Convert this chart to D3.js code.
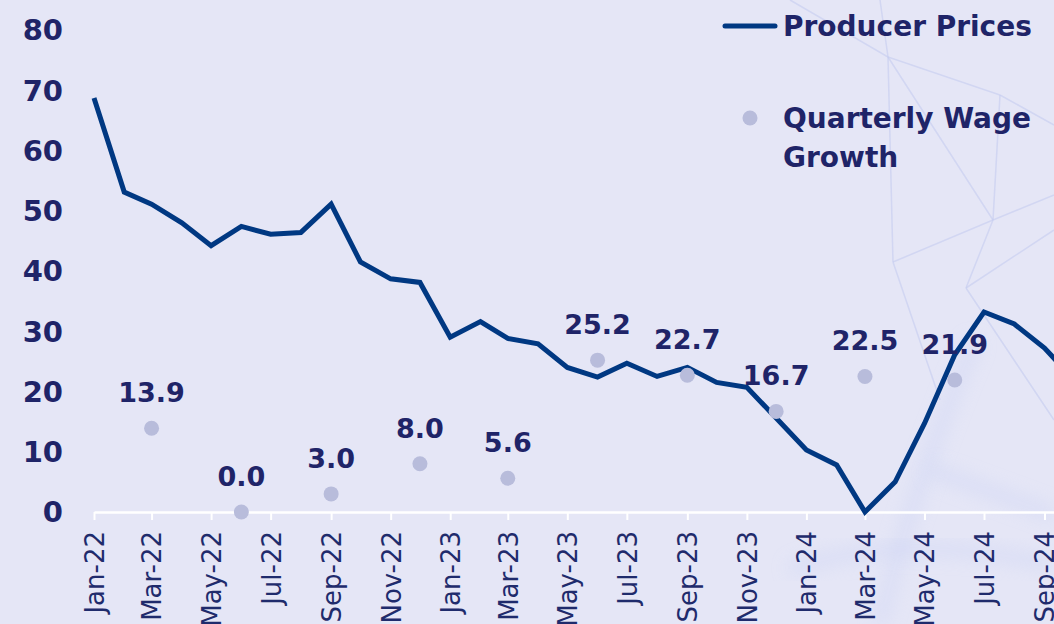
<!DOCTYPE html>
<html>
<head>
<meta charset="utf-8">
<script src="https://cdn.jsdelivr.net/npm/d3@7"></script>
<style>
  html, body { margin: 0; padding: 0; background: #e5e6f6; overflow: hidden; }
  svg { display: block; }
</style>
</head>
<body>
<script>
// monthly producer prices, Jan-22 .. Oct-24
var months = ['2022-01','2022-02','2022-03','2022-04','2022-05','2022-06','2022-07','2022-08','2022-09','2022-10','2022-11','2022-12',
              '2023-01','2023-02','2023-03','2023-04','2023-05','2023-06','2023-07','2023-08','2023-09','2023-10','2023-11','2023-12',
              '2024-01','2024-02','2024-03','2024-04','2024-05','2024-06','2024-07','2024-08','2024-09','2024-10'];
var producerPrices = [68.7, 53.1, 51.1, 48.0, 44.2, 47.4, 46.1, 46.4, 51.1, 41.5, 38.7, 38.1,
                      29.0, 31.6, 28.8, 27.9, 24.0, 22.4, 24.7, 22.5, 24.0, 21.5, 20.7, 15.6,
                      10.3, 7.8, 0.0, 5.0, 14.7, 26.1, 33.2, 31.2, 27.2, 22.0];

// quarterly wage growth
var quarters = ['2022-03','2022-06','2022-09','2022-12','2023-03','2023-06','2023-09','2023-12','2024-03','2024-06'];
var wageGrowth = [13.9, 0.0, 3.0, 8.0, 5.6, 25.2, 22.7, 16.7, 22.5, 21.9];

var yTicks = [0, 10, 20, 30, 40, 50, 60, 70, 80];
var legendLabels = ['Producer Prices', ['Quarterly Wage', 'Growth']];

var w = 1054, h = 624;
var parse = d3.timeParse('%Y-%m');
var lineColor = '#003882', dotColor = '#b8bcdb', textColor = '#1f2468';

var svg = d3.select('body').append('svg')
  .attr('width', w)
  .attr('height', h)
  .style('font-family', '"DejaVu Sans", sans-serif');

var x = d3.scaleTime()
  .domain([parse('2022-01'), parse('2024-10')])
  .range([94, 1073.8]);
var y = d3.scaleLinear()
  .domain([0, 80])
  .range([512, 30]);

// faint background decoration
var defs = svg.append('defs');
defs.append('filter').attr('id', 'blur')
  .attr('x', '-50%').attr('y', '-50%').attr('width', '200%').attr('height', '200%')
  .append('feGaussianBlur').attr('stdDeviation', 9);
defs.append('filter').attr('id', 'soft')
  .append('feGaussianBlur').attr('stdDeviation', 0.6);

var deco = svg.append('g').attr('fill', 'none');
deco.selectAll('path.soft')
  .data([
    'M880,624 Q915,480 975,340',
    'M930,470 Q1000,495 1054,515',
    'M790,570 Q900,530 1054,565'
  ])
  .enter().append('path')
  .attr('d', function (d) { return d; })
  .attr('stroke', '#cdd4f4')
  .attr('stroke-width', 12)
  .attr('opacity', 0.55)
  .attr('filter', 'url(#blur)');
deco.selectAll('line')
  .data([
    [790, 0, 888, 57], [880, 0, 888, 57], [888, 57, 1000, 95], [1000, 95, 1054, 125],
    [888, 57, 893, 262], [893, 262, 993, 220], [993, 220, 1054, 195], [1000, 95, 993, 220],
    [888, 57, 993, 220], [966, 288, 1054, 230], [966, 288, 1054, 420], [993, 220, 966, 288],
    [893, 262, 940, 400]
  ])
  .enter().append('line')
  .attr('x1', function (d) { return d[0]; })
  .attr('y1', function (d) { return d[1]; })
  .attr('x2', function (d) { return d[2]; })
  .attr('y2', function (d) { return d[3]; })
  .attr('stroke', '#c6cdf0')
  .attr('stroke-width', 1.6)
  .attr('opacity', 0.6)
  .attr('filter', 'url(#soft)');

// y labels (no axis line)
svg.append('g').selectAll('text')
  .data(yTicks)
  .enter().append('text')
  .attr('x', 63)
  .attr('y', function (d) { return y(d); })
  .attr('dy', '0.36em')
  .attr('text-anchor', 'end')
  .attr('fill', textColor)
  .style('font-weight', 'bold')
  .style('font-size', '29px')
  .text(function (d) { return d; });

// x axis
var xAxis = d3.axisBottom(x)
  .ticks(d3.timeMonth.every(2))
  .tickFormat(d3.timeFormat('%b-%y'))
  .tickSize(8)
  .tickSizeOuter(0);
var gx = svg.append('g')
  .attr('transform', 'translate(0,' + y(0) + ')')
  .call(xAxis);
gx.select('.domain').attr('stroke', '#ffffff').attr('stroke-width', 2.5);
gx.selectAll('.tick line').attr('stroke', '#ffffff').attr('stroke-width', 2);
gx.selectAll('.tick text')
  .attr('transform', 'rotate(-90)')
  .attr('x', -19)
  .attr('y', 0)
  .attr('dy', '0.36em')
  .attr('text-anchor', 'end')
  .attr('fill', '#1f2b6c')
  .style('font-family', '"DejaVu Sans", sans-serif')
  .style('font-size', '26px');

// producer prices line
var line = d3.line()
  .x(function (d, i) { return x(parse(months[i])); })
  .y(function (d) { return y(d); });
svg.append('path')
  .datum(producerPrices)
  .attr('d', line)
  .attr('fill', 'none')
  .attr('stroke', lineColor)
  .attr('stroke-width', 5)
  .attr('stroke-linejoin', 'miter');

// wage growth dots + labels
var dots = svg.append('g').selectAll('g')
  .data(wageGrowth)
  .enter().append('g');
dots.append('circle')
  .attr('cx', function (d, i) { return x(parse(quarters[i])); })
  .attr('cy', function (d) { return y(d); })
  .attr('r', 7.5)
  .attr('fill', dotColor);
dots.append('text')
  .attr('x', function (d, i) { return x(parse(quarters[i])); })
  .attr('y', function (d) { return y(d) - 26; })
  .attr('text-anchor', 'middle')
  .attr('fill', textColor)
  .style('font-weight', 'bold')
  .style('font-size', '27px')
  .text(function (d) { return d.toFixed(1); });

// legend
var legend = svg.append('g');
legend.append('line')
  .attr('x1', 725).attr('x2', 775)
  .attr('y1', 26).attr('y2', 26)
  .attr('stroke', lineColor)
  .attr('stroke-width', 5)
  .attr('stroke-linecap', 'round');
legend.append('text')
  .attr('x', 783).attr('y', 36)
  .attr('fill', textColor)
  .style('font-weight', 'bold')
  .style('font-size', '28px')
  .text(legendLabels[0]);
legend.append('circle')
  .attr('cx', 750).attr('cy', 118)
  .attr('r', 7.5)
  .attr('fill', dotColor);
legend.append('text')
  .attr('x', 783).attr('y', 128)
  .attr('fill', textColor)
  .style('font-weight', 'bold')
  .style('font-size', '28px')
  .selectAll('tspan')
  .data(legendLabels[1])
  .enter().append('tspan')
  .attr('x', 783)
  .attr('dy', function (d, i) { return i === 0 ? 0 : 39; })
  .text(function (d) { return d; });
</script>
</body>
</html>
